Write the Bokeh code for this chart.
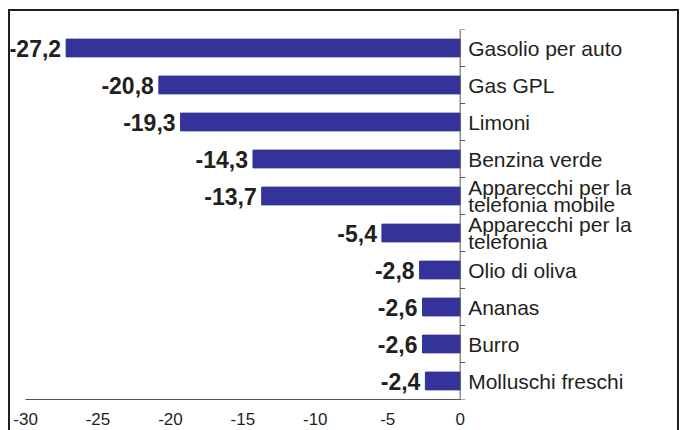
from bokeh.plotting import figure
from bokeh.models import Range1d, FactorRange, FixedTicker, Span, ColumnDataSource
from bokeh.transform import dodge
from bokeh.core.properties import value
from bokeh.embed import file_html
from bokeh.resources import INLINE

categories = ["Gasolio per auto", "Gas GPL", "Limoni", "Benzina verde",
              "Apparecchi per la\ntelefonia mobile", "Apparecchi per la\ntelefonia",
              "Olio di oliva", "Ananas", "Burro", "Molluschi freschi"]
values = [-27.2, -20.8, -19.3, -14.3, -13.7, -5.4, -2.8, -2.6, -2.6, -2.4]
value_labels = ["-27,2", "-20,8", "-19,3", "-14,3", "-13,7", "-5,4", "-2,8", "-2,6", "-2,6", "-2,4"]
x_ticks = [-30, -25, -20, -15, -10, -5, 0]
x_tick_labels = ["-30", "-25", "-20", "-15", "-10", "-5", "0"]

FONT = "Liberation Sans"
BAR = "#333399"
INK = "#231f20"
AXIS = "#555555"

src = ColumnDataSource(dict(cat=categories, val=values, lab=value_labels,
                            zero=[0] * len(values)))

p = figure(width=667, height=419,
           y_range=FactorRange(factors=categories[::-1]),
           x_range=Range1d(-31.04, 15.28),
           y_axis_location=None,
           output_backend="svg", toolbar_location=None,
           min_border_left=0, min_border_right=0,
           min_border_top=18, min_border_bottom=33)
p.styles = {"box-sizing": "content-box", "margin-left": "8px", "margin-top": "9px",
            "border-top": f"2px solid {INK}", "border-left": f"2px solid {INK}",
            "border-right": f"2px solid {INK}"}
p.outline_line_color = None
p.xgrid.visible = False
p.ygrid.visible = False
p.background_fill_color = "white"
p.border_fill_color = "white"

p.hbar(y="cat", left="val", right="zero", height=0.48, color=BAR, source=src)

p.text(x="val", y="cat", text="lab", source=src, x_offset=-5,
       text_align="right", text_baseline="middle",
       text_font=value(FONT), text_font_style="bold", text_font_size="23px",
       text_color=INK)

p.text(x="zero", y="cat", text="cat", source=src, x_offset=8,
       text_align="left", text_baseline="middle", text_line_height=0.76,
       text_font=value(FONT), text_font_size="21px", text_color=INK)

p.add_layout(Span(location=0, dimension="height", line_color=AXIS, line_width=1))

tick_len = 0.35
p.segment(x0=0, x1=tick_len, y0=dodge("cat", -0.5, range=p.y_range),
          y1=dodge("cat", -0.5, range=p.y_range), source=src,
          line_color=AXIS, line_width=1)
top_src = ColumnDataSource(dict(cat=categories[:1]))
p.segment(x0=0, x1=tick_len, y0=dodge("cat", 0.5, range=p.y_range),
          y1=dodge("cat", 0.5, range=p.y_range), source=top_src,
          line_color=AXIS, line_width=1)

ax = p.xaxis[0]
ax.ticker = FixedTicker(ticks=x_ticks)
ax.major_label_overrides = {t: l for t, l in zip(x_ticks, x_tick_labels)}
ax.bounds = (-30, 0)
ax.axis_line_color = AXIS
ax.axis_line_width = 1
ax.major_tick_line_color = None
ax.minor_tick_line_color = None
ax.major_label_standoff = 7
ax.major_label_text_font = FONT
ax.major_label_text_font_size = "17px"
ax.major_label_text_color = INK

open("out.html", "w").write(file_html(p, INLINE))
